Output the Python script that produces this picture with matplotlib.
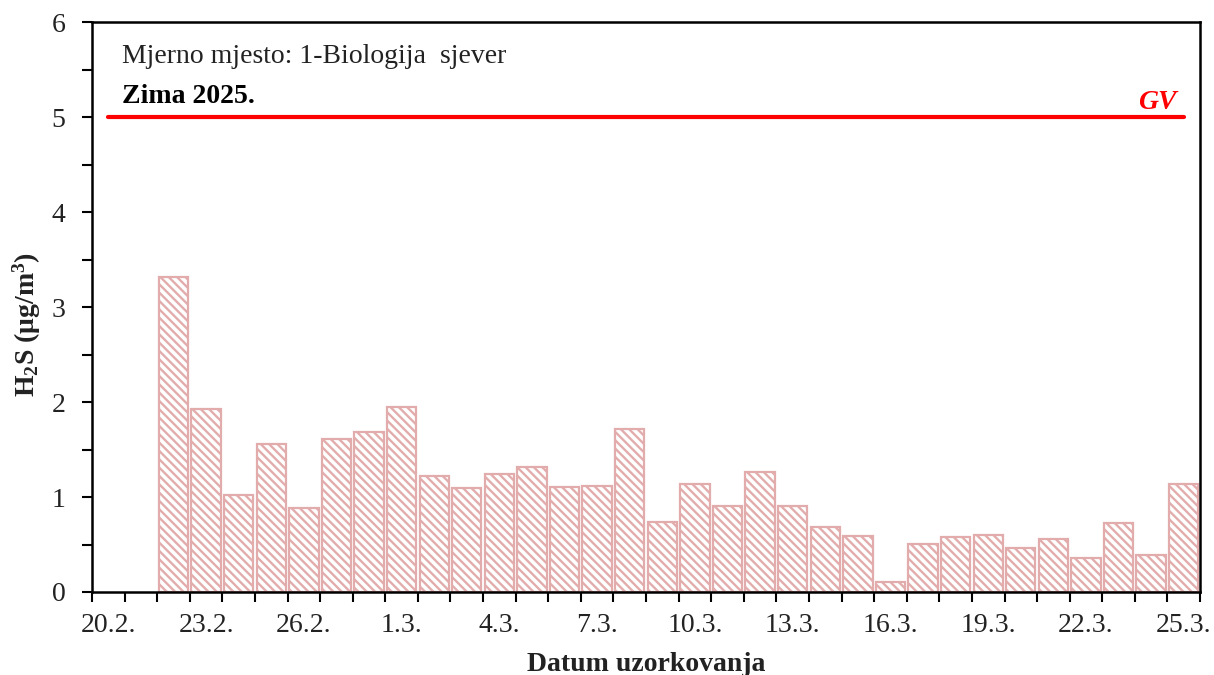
import matplotlib
matplotlib.use('Agg')
import matplotlib.pyplot as plt
import matplotlib.dates as mdates
from matplotlib.ticker import MultipleLocator, FixedLocator, NullFormatter
import pandas as pd

# daily H2S concentrations, Zima 2025.
dates = ['2025-02-22', '2025-02-23', '2025-02-24', '2025-02-25', '2025-02-26',
         '2025-02-27', '2025-02-28', '2025-03-01', '2025-03-02', '2025-03-03',
         '2025-03-04', '2025-03-05', '2025-03-06', '2025-03-07', '2025-03-08',
         '2025-03-09', '2025-03-10', '2025-03-11', '2025-03-12', '2025-03-13',
         '2025-03-14', '2025-03-15', '2025-03-16', '2025-03-17', '2025-03-18',
         '2025-03-19', '2025-03-20', '2025-03-21', '2025-03-22', '2025-03-23',
         '2025-03-24', '2025-03-25']
h2s = [3.32, 1.93, 1.02, 1.56, 0.88, 1.61, 1.69, 1.95, 1.22, 1.10,
       1.24, 1.32, 1.11, 1.12, 1.72, 0.74, 1.14, 0.91, 1.26, 0.91,
       0.68, 0.59, 0.11, 0.51, 0.58, 0.60, 0.46, 0.56, 0.36, 0.73,
       0.39, 1.14]

tick_dates = ['2025-02-20', '2025-02-23', '2025-02-26', '2025-03-01',
              '2025-03-04', '2025-03-07', '2025-03-10', '2025-03-13',
              '2025-03-16', '2025-03-19', '2025-03-22', '2025-03-25']
tick_labels = ['20.2.', '23.2.', '26.2.', '1.3.', '4.3.', '7.3.', '10.3.',
               '13.3.', '16.3.', '19.3.', '22.3.', '25.3.']
axis_start = '2025-02-20'
axis_end = '2025-03-26'
gv = 5

plt.rcParams['font.family'] = ['Liberation Serif', 'DejaVu Serif']
plt.rcParams['mathtext.fontset'] = 'custom'
plt.rcParams['mathtext.rm'] = 'Liberation Serif'
plt.rcParams['mathtext.bf'] = 'Liberation Serif:bold'
plt.rcParams['mathtext.default'] = 'bf'
plt.rcParams['hatch.linewidth'] = 1.7

txt = '#222222'
pink = '#e3acac'
fs = 20

fig = plt.figure(figsize=(12.14, 6.75), dpi=100)
ax = fig.add_axes([0.0758, 0.123, 0.9127, 0.844])

x = mdates.date2num(pd.to_datetime(dates)) + 0.5
ax.bar(x, h2s, width=0.9, color='white', edgecolor=pink, linewidth=1.6,
       hatch='\\' * 4)

gx = mdates.date2num(pd.to_datetime([axis_start, dates[-1]])) + 0.5
ax.plot(gx, [gv, gv], color='#ff0000', lw=3, solid_capstyle='round')

x0 = mdates.date2num(pd.to_datetime(axis_start))
x1 = mdates.date2num(pd.to_datetime(axis_end))
ax.set_xlim(x0, x1)
ax.set_ylim(0, 6)

ax.xaxis.set_major_locator(MultipleLocator(1))
ax.xaxis.set_major_formatter(NullFormatter())
lx = mdates.date2num(pd.to_datetime(tick_dates)) + 0.5
ax.xaxis.set_minor_locator(FixedLocator(lx))
ax.set_xticklabels(tick_labels, minor=True)
ax.tick_params(axis='x', which='major', direction='out', length=7, width=1.5)
ax.tick_params(axis='x', which='minor', length=0, pad=15, labelsize=fs,
               labelcolor=txt)

ax.yaxis.set_major_locator(MultipleLocator(1))
ax.yaxis.set_minor_locator(MultipleLocator(0.5))
ax.tick_params(axis='y', which='both', direction='out', length=7, width=1.5,
               labelsize=fs, labelcolor=txt, pad=12)

for s in ax.spines.values():
    s.set_linewidth(1.8)
    s.set_color('black')

ax.set_ylabel('H$_2$S (μg/m$^3$)', fontsize=fs, fontweight='bold', color=txt)
ax.yaxis.set_label_coords(-0.044, 0.47)
ax.set_xlabel('Datum uzorkovanja', fontsize=fs, fontweight='bold', color=txt)
ax.xaxis.set_label_coords(0.5, -0.105)

ax.text(0.027, 0.94, 'Mjerno mjesto: 1-Biologija  sjever', transform=ax.transAxes,
        fontsize=fs, color=txt, va='center', ha='left')
ax.text(0.027, 0.87, 'Zima 2025.', transform=ax.transAxes, fontsize=fs,
        fontweight='bold', color='black', va='center', ha='left')
ax.text(0.961, 0.859, 'GV', transform=ax.transAxes, fontsize=fs,
        fontweight='bold', fontstyle='italic', color='#ff0000',
        va='center', ha='center')

plt.savefig('out.png', format='png')
